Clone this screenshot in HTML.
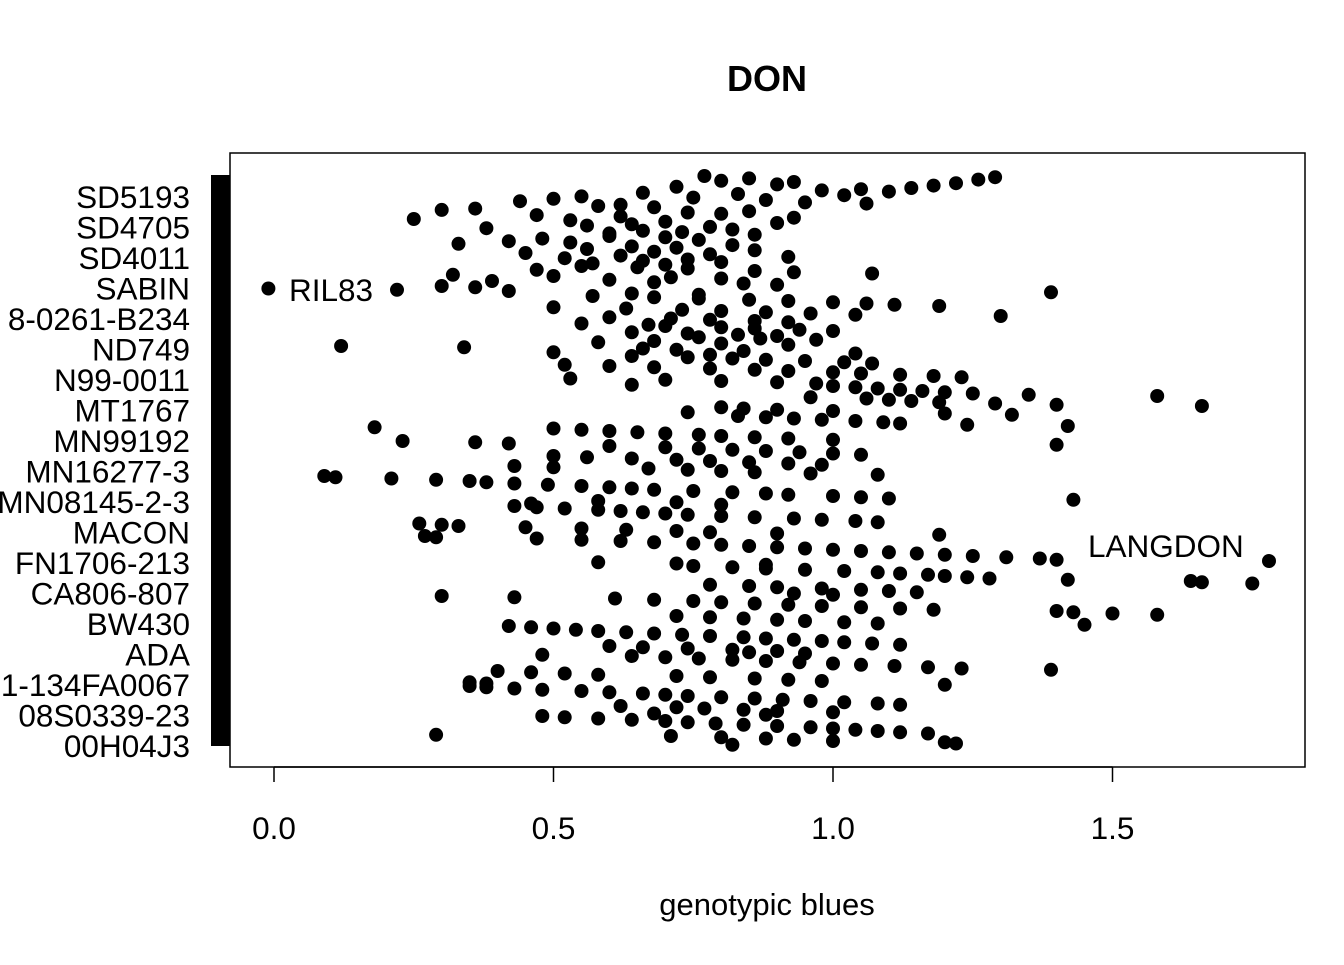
<!DOCTYPE html>
<html><head><meta charset="utf-8"><style>
body{margin:0;background:#fff}
svg text{font-family:"Liberation Sans",Arial,sans-serif}
</style></head><body>
<svg id="chart" width="1344" height="960" xmlns="http://www.w3.org/2000/svg">
<text x="767" y="91" text-anchor="middle" font-size="36" font-weight="bold">DON</text>
<rect x="230" y="153" width="1075" height="614" fill="none" stroke="#000" stroke-width="1.5"/>
<rect x="211" y="175" width="19" height="571" fill="#000"/>
<g id="ylabels"></g>
<g id="xaxis"></g>
<g id="points"></g>
<text x="289" y="301" font-size="31.5">RIL83</text>
<text x="1088" y="557" font-size="31.5">LANGDON</text>
<text x="767" y="915" text-anchor="middle" font-size="31">genotypic blues</text>
</svg>
<script>
const genotypeLabels=["SD5193","SD4705","SD4011","SABIN","8-0261-B234","ND749","N99-0011","MT1767","MN99192","MN16277-3","MN08145-2-3","MACON","FN1706-213","CA806-807","BW430","ADA","1-134FA0067","08S0339-23","00H04J3"];
const xTicks=[0.0,0.5,1.0,1.5];
const xTickLabels=["0.0","0.5","1.0","1.5"];
const band0=[0.77,1.29,0.85,1.26,0.8,0.93,1.22,0.9,1.18,0.72,1.14,1.05,0.98,1.1,0.66,0.83,1.02,0.55,0.75,0.5,0.88,0.44,0.95,1.06,0.62];
const band1=[0.58,0.68,0.36,0.3,0.85,0.74,0.8,0.47,0.62,0.93,0.25,0.53,0.7,0.9,0.64,0.56,0.78,0.38,0.82,0.66,0.73,0.6,0.86];
const band2=[0.6,0.7,0.48,0.76,0.42,0.53,0.33,0.82,0.64,0.72,0.56,0.86,0.68,0.45,0.78,0.62,0.92,0.52,0.74,0.66,0.8,0.57,0.7];
const band3=[0.55,0.65,0.74,0.47,0.86,0.93,1.07,0.32,0.5,0.71,0.8,0.6,0.39,0.68,0.84,0.9,0.3,0.36,-0.01,0.22,0.42,1.39,0.64,0.76];
const band4=[0.57,0.68,0.76,0.85,0.92,1.0,1.06,1.11,1.19,0.5,0.63,0.73,0.8,0.88,0.96,1.04,1.3,0.6,0.71,0.78,0.86,0.92,0.55,0.67];
const band5=[0.7,0.8,0.86,0.94,1.0,0.64,0.74,0.83,0.9,0.76,0.87,0.97,0.68,0.58,0.8,0.92,0.12,0.34,0.66,0.72,0.84,0.5,1.04,0.78];
const band6=[0.64,0.74,0.82,0.88,0.95,1.02,1.07,0.52,0.6,0.68,0.78,0.86,0.92,1.0,1.05,1.12,1.18,1.23,0.53,0.7,0.8,0.9,0.97,0.64];
const band7=[1.0,1.04,1.08,1.12,1.16,1.2,1.25,1.35,1.58,0.96,1.06,1.1,1.14,1.19,1.29,1.4,1.66,0.8,0.84,0.9,1.0,0.74,1.2,1.32];
const band8=[0.83,0.88,0.93,0.98,1.04,1.09,1.12,1.24,1.42,0.18,0.5,0.55,0.6,0.65,0.7,0.76,0.8,0.86,0.92,1.0,0.23,0.36,0.42,1.4];
const band9=[0.6,0.7,0.76,0.82,0.88,0.94,1.0,1.05,0.5,0.56,0.64,0.72,0.78,0.85,0.92,0.98,0.43,0.5,0.67,0.74,0.8,0.86,0.96,1.08];
const band10=[0.09,0.11,0.21,0.29,0.35,0.38,0.43,0.49,0.55,0.6,0.64,0.68,0.75,0.82,0.88,0.92,1.0,1.05,1.1,1.43,0.58,0.72,0.46,0.8];
const band11=[0.43,0.47,0.52,0.58,0.62,0.66,0.7,0.74,0.8,0.86,0.93,0.98,1.04,1.08,0.26,0.3,0.33,0.45,0.55,0.63,0.72,0.78,0.9,1.19];
const band12=[0.27,0.29,0.47,0.55,0.62,0.68,0.75,0.8,0.85,0.9,0.95,1.0,1.05,1.1,1.15,1.2,1.25,1.31,1.37,1.4,1.78,0.58,0.72,0.88];
const band13=[0.75,0.82,0.88,0.95,1.02,1.08,1.12,1.17,1.2,1.24,1.28,1.42,1.64,1.66,1.75,0.78,0.85,0.9,0.98,1.05,1.1,1.15,0.93,1.0];
const band14=[0.3,0.43,0.61,0.68,0.75,0.8,0.86,0.92,0.98,1.05,1.12,1.18,1.4,1.43,1.5,1.58,0.72,0.78,0.84,0.9,0.95,1.02,1.08,1.45];
const band15=[0.42,0.46,0.5,0.54,0.58,0.63,0.68,0.73,0.78,0.84,0.88,0.93,0.98,1.02,1.07,1.12,0.6,0.66,0.74,0.82,0.9,0.85,0.95,0.48];
const band16=[0.64,0.7,0.76,0.82,0.88,0.94,1.0,1.05,1.11,1.17,1.23,1.39,0.4,0.46,0.52,0.58,0.72,0.78,0.86,0.92,0.98,0.35,0.38,1.2];
const band17=[0.35,0.38,0.43,0.48,0.55,0.6,0.66,0.7,0.74,0.8,0.86,0.91,0.96,1.02,1.08,1.12,0.62,0.72,0.77,0.84,0.9,1.0,0.68,0.88];
const band18=[0.48,0.52,0.58,0.64,0.7,0.74,0.79,0.84,0.9,0.96,1.0,1.04,1.08,1.12,1.17,0.29,0.71,0.8,0.88,0.93,1.0,1.2,1.22,0.82];
const bands=[band0,band1,band2,band3,band4,band5,band6,band7,band8,band9,band10,band11,band12,band13,band14,band15,band16,band17,band18];

const NS="http://www.w3.org/2000/svg";
function xScale(v){return 274+559*v;}
function yScale(v){return 176+30*v;}
const yl=document.getElementById('ylabels');
genotypeLabels.forEach((s,i)=>{
  const t=document.createElementNS(NS,'text');
  
  
  t.setAttribute('x',190);t.setAttribute('y',(197+30.5*i+11).toFixed(1));
  t.setAttribute('text-anchor','end');t.setAttribute('font-size','31.5');
  t.textContent=s;yl.appendChild(t);
});
const xa=document.getElementById('xaxis');
const base=document.createElementNS(NS,'line');


base.setAttribute('x1',xScale(xTicks[0]));base.setAttribute('x2',xScale(xTicks[xTicks.length-1]));
base.setAttribute('y1',767);base.setAttribute('y2',767);base.setAttribute('stroke','#000');base.setAttribute('stroke-width','1.5');
xa.appendChild(base);
xTicks.forEach((v,i)=>{
  const l=document.createElementNS(NS,'line');
  
  
  l.setAttribute('x1',xScale(v));l.setAttribute('x2',xScale(v));l.setAttribute('y1',767);l.setAttribute('y2',782);
  l.setAttribute('stroke','#000');l.setAttribute('stroke-width','1.5');xa.appendChild(l);
  const t=document.createElementNS(NS,'text');
  
  
  t.setAttribute('x',xScale(v));t.setAttribute('y',839);t.setAttribute('text-anchor','middle');t.setAttribute('font-size','31.5');
  t.textContent=xTickLabels[i];xa.appendChild(t);
});
const pg=document.getElementById('points');
bands.forEach((b,k)=>{
  b.forEach((v,j)=>{
    const c=document.createElementNS(NS,'circle');
    
    
    c.setAttribute('cx',xScale(v).toFixed(1));
    c.setAttribute('cy',yScale(k+j/b.length).toFixed(1));
    c.setAttribute('r',7);pg.appendChild(c);
  });
});
</script>
</body></html>
